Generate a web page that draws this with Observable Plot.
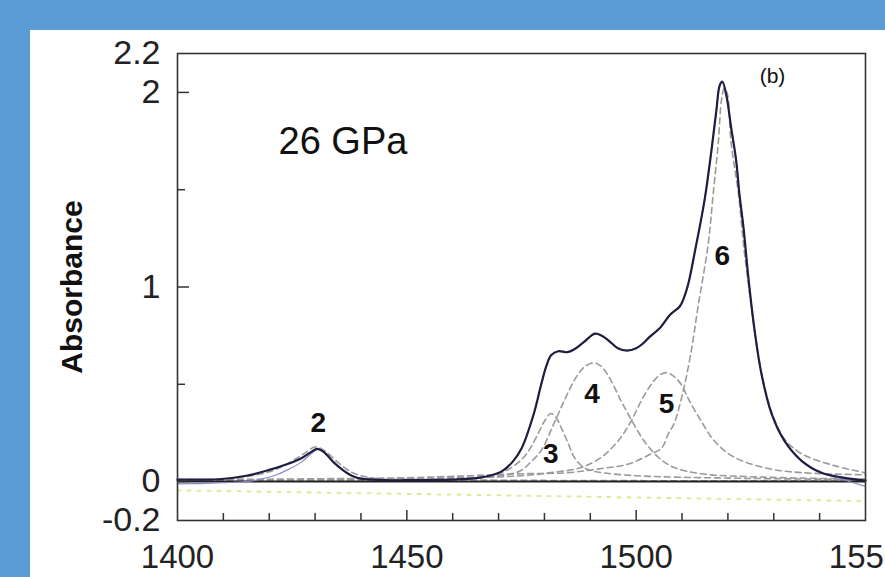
<!DOCTYPE html>
<html>
<head>
<meta charset="utf-8">
<script src="https://cdn.jsdelivr.net/npm/d3@7"></script>
<script src="https://cdn.jsdelivr.net/npm/@observablehq/plot@0.6"></script>
<style>
  html, body { margin: 0; padding: 0; overflow: hidden; background: #5b9bd5; width: 885px; height: 577px; }
  #panel { position: absolute; left: 30px; top: 30px; width: 855px; height: 547px; background: #ffffff; overflow: hidden; }
</style>
</head>
<body>
<div id="panel"></div>
<script>
// ---- Data ----
const xDomain = [1400, 1550];
const yDomain = [-0.2, 2.2];
const xTickLabels = [1400, 1450, 1500, 1550];
const xMajorTicks = [1450, 1500];
const xMinorTicks = [1410, 1420, 1430, 1440, 1460, 1470, 1480, 1490, 1510, 1520, 1530, 1540];
const yTickLabels = [-0.2, 0, 1, 2, 2.2];
const yMajorTicks = [0, 1, 2];
const yMinorTicks = [0.5, 1.5];
const title = "26 GPa";
const panelTag = "(b)";
const yLabel = "Absorbance";

// measured spectrum (solid dark line)
const measured = [
  [1400, 0.01], [1405, 0.01], [1409, 0.012], [1415, 0.03], [1420, 0.06], [1424, 0.09],
  [1427, 0.12], [1429, 0.15], [1430.5, 0.168], [1432, 0.15], [1434, 0.1], [1436, 0.06],
  [1438, 0.03], [1440, 0.015], [1445, 0.008], [1450, 0.007], [1455, 0.008], [1460, 0.01],
  [1464, 0.015], [1466, 0.02], [1468, 0.03], [1470.5, 0.05], [1473, 0.1], [1475, 0.17],
  [1477.7, 0.35], [1479.3, 0.5], [1480.5, 0.6], [1481.5, 0.65], [1483, 0.67], [1485, 0.665],
  [1486.5, 0.68], [1488.5, 0.715], [1491, 0.76], [1492.5, 0.75], [1494, 0.725], [1496, 0.685],
  [1498, 0.673], [1500, 0.685], [1501.5, 0.71], [1503, 0.745], [1505, 0.785], [1507.5, 0.86],
  [1509.5, 0.9], [1510.5, 0.95], [1511.5, 1.03], [1512.7, 1.17], [1514.9, 1.445], [1516.4, 1.7],
  [1517.5, 1.91], [1518.2, 2.035], [1518.8, 2.055], [1519.7, 1.98], [1520.7, 1.82], [1521.8, 1.65],
  [1522.5, 1.48], [1523.4, 1.305], [1524.5, 1.04], [1525.8, 0.78], [1527.3, 0.555], [1529.5, 0.35],
  [1532.3, 0.21], [1536, 0.108], [1540.4, 0.045], [1544.8, 0.022], [1550, 0.005]
];

// fit envelope (thin light line) ends that differ from the measured curve
const fitLeft = [
  [1400, -0.012], [1405, -0.01], [1410, -0.006], [1415, 0.0], [1418, 0.012], [1421, 0.03],
  [1424, 0.06], [1427, 0.1], [1429, 0.14], [1430.5, 0.165]
];
const fitRight = [[1544.8, 0.012], [1550, -0.025]];

// fitted component bands (dashed grey)
const band2 = [
  [1400, 0.005], [1410, 0.01], [1415, 0.025], [1420, 0.05], [1423, 0.08], [1426, 0.12],
  [1428, 0.15], [1430, 0.178], [1432, 0.16], [1434.9, 0.1], [1436.5, 0.07], [1438.7, 0.04],
  [1443.7, 0.015], [1450, 0.012], [1460, 0.009], [1480, 0.006], [1550, 0.003]
];
const band3 = [
  [1400, 0.005], [1440, 0.008], [1460, 0.015], [1466, 0.022], [1469, 0.035], [1471, 0.05],
  [1473, 0.075], [1475.5, 0.125], [1477, 0.175], [1478.6, 0.245], [1480, 0.31], [1481.4, 0.35],
  [1482.5, 0.33], [1483.6, 0.28], [1485.2, 0.195], [1486.5, 0.125], [1488.6, 0.072], [1490.5, 0.055],
  [1492.4, 0.046], [1500, 0.03], [1520, 0.018], [1550, 0.01]
];
const band4 = [
  [1400, 0.005], [1440, 0.01], [1460, 0.02], [1470.5, 0.03], [1474.9, 0.057], [1477, 0.1],
  [1479.3, 0.16], [1482.1, 0.3], [1484.3, 0.415], [1486.5, 0.52], [1488.5, 0.585], [1490.8, 0.61],
  [1492.5, 0.59], [1494.5, 0.52], [1496.7, 0.415], [1498.9, 0.32], [1501.7, 0.21], [1504.8, 0.125],
  [1508.3, 0.072], [1514.2, 0.04], [1525, 0.025], [1550, 0.012]
];
const band5 = [
  [1400, 0.005], [1450, 0.012], [1474.9, 0.03], [1481.4, 0.046], [1488, 0.072], [1492.4, 0.125],
  [1496.1, 0.21], [1498.9, 0.31], [1501.1, 0.415], [1503.3, 0.5], [1505, 0.545], [1506.5, 0.56],
  [1508, 0.545], [1509.8, 0.5], [1511.6, 0.415], [1514.2, 0.31], [1517, 0.21], [1521.4, 0.125],
  [1528.8, 0.067], [1536, 0.046], [1550, 0.035]
];
const band6 = [
  [1400, 0.01], [1450, 0.02], [1474.9, 0.04], [1485.2, 0.046], [1492.4, 0.067], [1498.3, 0.09],
  [1503.3, 0.143], [1505.5, 0.17], [1507, 0.245], [1508.3, 0.3], [1510.3, 0.47], [1512, 0.67],
  [1513.5, 0.9], [1515.7, 1.22], [1516.8, 1.48], [1517.9, 1.74], [1518.6, 1.96], [1519.2, 2.02],
  [1519.8, 2.0], [1520.7, 1.74], [1522.3, 1.48], [1523.4, 1.22], [1524.7, 0.97], [1525.8, 0.78],
  [1527.3, 0.56], [1529.5, 0.36], [1532.3, 0.22], [1536, 0.144], [1543.2, 0.082], [1549.8, 0.046]
];

// sloping reference line (pale yellow dashed)
const refLine = [[1400, -0.045], [1550, -0.1]];
const zeroLine = [0];

// band labels
const peakIds = ["2", "3", "4", "5", "6"];
const peakLabelX = [1430.7, 1481.4, 1490.4, 1506.6, 1518.8];
const peakLabelY = [0.30, 0.14, 0.45, 0.40, 1.157];

// ---- Build ----
const fit = [
  ...fitLeft,
  ...measured.filter(d => d[0] > 1430.5 && d[0] < 1541),
  ...fitRight
];
const peakLabels = peakIds.map((t, i) => ({t, x: peakLabelX[i], y: peakLabelY[i]}));
const px = d => d[0], py = d => d[1];
const fmt = d => String(d);

const dashStyle = {x: px, y: py, stroke: "#9a9a9a", strokeWidth: 1.6, strokeDasharray: "6,4", curve: "catmull-rom"};

const chart = Plot.plot({
  width: 855,
  height: 547,
  marginLeft: 147,
  marginRight: 20,
  marginTop: 23,
  marginBottom: 57,
  style: {fontFamily: "'Liberation Sans', Arial, sans-serif", color: "#222", background: "white", overflow: "visible"},
  x: {domain: xDomain, axis: null},
  y: {domain: yDomain, axis: null},
  marks: [
    Plot.line(refLine, {x: px, y: py, stroke: "#e2e89a", strokeWidth: 2, strokeDasharray: "3,7"}),
    Plot.line(band2, dashStyle),
    Plot.line(band3, dashStyle),
    Plot.line(band4, dashStyle),
    Plot.line(band5, dashStyle),
    Plot.line(band6, dashStyle),
    Plot.ruleY(zeroLine, {stroke: "#222", strokeWidth: 2}),
    Plot.line(fit, {x: px, y: py, stroke: "#8a8ac8", strokeWidth: 1.2, curve: "catmull-rom"}),
    Plot.line(measured, {x: px, y: py, stroke: "#1e1e40", strokeWidth: 2.2, curve: "catmull-rom"}),
    Plot.frame({stroke: "#333", strokeWidth: 1.6}),
    // x axis
    Plot.axisX({ticks: xTickLabels, tickSize: 0, tickPadding: 24, tickFormat: fmt, fontSize: 33, fill: "#222", label: null}),
    Plot.axisX({ticks: xMinorTicks, tickSize: -7, tickFormat: () => "", fill: "none", stroke: "#333", strokeWidth: 1.5, label: null}),
    Plot.axisX({ticks: xMajorTicks, tickSize: -10, tickFormat: () => "", fill: "none", stroke: "#333", strokeWidth: 1.5, label: null}),
    // y axis
    Plot.axisY({ticks: yTickLabels, tickSize: 0, tickPadding: 17, tickFormat: fmt, fontSize: 34, fill: "#222", label: null}),
    Plot.axisY({ticks: yMajorTicks, tickSize: -12, tickFormat: () => "", fill: "none", stroke: "#333", strokeWidth: 1.5, label: null}),
    Plot.axisY({ticks: yMinorTicks, tickSize: -8, tickFormat: () => "", fill: "none", stroke: "#333", strokeWidth: 1.5, label: null}),
    // texts
    Plot.text([yLabel], {text: d => d, frameAnchor: "left", dx: -105, rotate: -90, textAnchor: "middle", lineAnchor: "middle", fontSize: 30, fontWeight: "bold", fill: "#111"}),
    Plot.text([title], {text: d => d, frameAnchor: "top-left", dx: 101, dy: 88, textAnchor: "start", lineAnchor: "middle", fontSize: 38, fill: "#111"}),
    Plot.text([panelTag], {text: d => d, frameAnchor: "top-left", dx: 595, dy: 23, textAnchor: "middle", lineAnchor: "middle", fontSize: 21, fill: "#111"}),
    Plot.text(peakLabels, {x: "x", y: "y", text: "t", fontSize: 28, fontWeight: "bold", fill: "#111"})
  ]
});
document.getElementById("panel").appendChild(chart);
</script>
</body>
</html>
